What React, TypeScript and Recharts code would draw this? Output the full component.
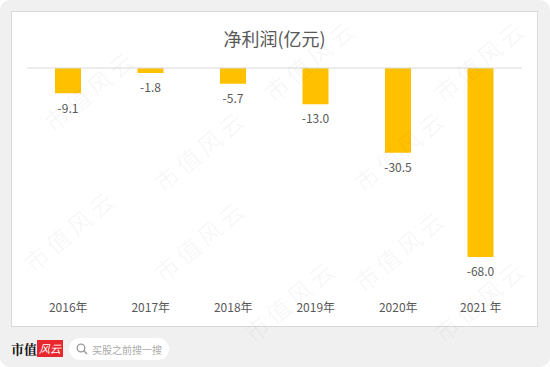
import React from "react";
import { BarChart, Bar, XAxis, YAxis, ReferenceLine, LabelList } from "recharts";

const years = ["2016年", "2017年", "2018年", "2019年", "2020年", "2021 年"];
const profit = [-9.1, -1.8, -5.7, -13.0, -30.5, -68.0];

const data = years.map((year, i) => ({ year, profit: profit[i] }));

const font = "'Noto Sans CJK SC', 'Noto Sans', sans-serif";

// watermark centres
const marks = [
  { x: 90, y: 90 },
  { x: 310, y: 60 },
  { x: 480, y: 60 },
  { x: 200, y: 150 },
  { x: 400, y: 150 },
  { x: 70, y: 230 },
  { x: 200, y: 240 },
  { x: 400, y: 250 },
  { x: 290, y: 300 },
  { x: 480, y: 300 },
];

const renderValue = (props: any) => {
  const { x, y, width, height, value } = props;
  const bottom = Math.max(y, y + height);
  return (
    <text
      x={x + width / 2}
      y={bottom + 16}
      textAnchor="middle"
      dominantBaseline="middle"
      fill="#595959"
      fontSize={12}
      fontFamily={font}
    >
      {value.toFixed(1)}
    </text>
  );
};

const renderTick = (props: any) => {
  const { x, y, payload } = props;
  return (
    <text x={x} y={y + 44} textAnchor="middle" dominantBaseline="middle" fill="#595959" fontSize={12} fontFamily={font}>
      {payload.value}
    </text>
  );
};

export default function App() {
  return (
    <div
      style={{
        position: "fixed",
        left: 0,
        top: 0,
        width: 550,
        height: 367,
        background: "#ffffff",
        fontFamily: font,
      }}
    >
      <div
        style={{
          position: "absolute",
          left: 0,
          top: 0,
          width: 550,
          height: 367,
          background: "#f0f0f0",
          borderRadius: 10,
          overflow: "hidden",
        }}
      >
        <div
          style={{
            position: "absolute",
            left: 11,
            top: 11,
            width: 525,
            height: 314,
            background: "#fff",
            border: "1px solid #d9d9d9",
          }}
        />
        <div
          style={{
            position: "absolute",
            left: 11,
            top: 26,
            width: 527,
            textAlign: "center",
            fontSize: 18,
            color: "#595959",
            lineHeight: "24px",
          }}
        >
          净利润(亿元)
        </div>
        <div style={{ position: "absolute", left: 11, top: 11 }}>
          <BarChart width={527} height={316} data={data} margin={{ top: 57, right: 16, bottom: 40, left: 16 }}>
            <XAxis dataKey="year" axisLine={false} tickLine={false} tick={renderTick} height={30} interval={0} />
            <YAxis hide domain={[-68, 0]} />
            <ReferenceLine y={0} stroke="#d9d9d9" strokeWidth={1} />
            <Bar dataKey="profit" fill="#FFC000" barSize={26} isAnimationActive={false}>
              <LabelList dataKey="profit" content={renderValue} />
            </Bar>
          </BarChart>
        </div>
        {marks.map((m, i) => (
          <div
            key={i}
            style={{
              position: "absolute",
              left: m.x - 60,
              top: m.y - 16,
              width: 120,
              height: 32,
              textAlign: "center",
              fontSize: 24,
              lineHeight: "32px",
              color: "rgba(0,0,0,0.045)",
              transform: "rotate(-40deg)",
              whiteSpace: "nowrap",
              pointerEvents: "none",
              letterSpacing: 4,
            }}
          >
            市值风云
          </div>
        ))}
        <div
          style={{
            position: "absolute",
            left: 11,
            top: 340,
            fontSize: 13,
            fontWeight: 700,
            fontFamily: "'Noto Serif CJK SC', 'Noto Sans CJK SC', serif",
            color: "#111",
            lineHeight: "18px",
          }}
        >
          市值
        </div>
        <div
          style={{
            position: "absolute",
            left: 37,
            top: 340,
            width: 26,
            height: 17,
            background: "#e8262d",
            color: "#fff",
            fontSize: 11,
            fontStyle: "italic",
            lineHeight: "17px",
            textAlign: "center",
          }}
        >
          风云
        </div>
        <div
          style={{
            position: "absolute",
            left: 69,
            top: 338,
            width: 100,
            height: 22,
            background: "#fff",
            borderRadius: 11,
            display: "flex",
            alignItems: "center",
          }}
        >
          <svg width={12} height={12} style={{ marginLeft: 7 }}>
            <circle cx={5} cy={5} r={3.8} stroke="#999" strokeWidth={1.3} fill="none" />
            <line x1={7.8} y1={7.8} x2={11} y2={11} stroke="#999" strokeWidth={1.3} />
          </svg>
          <span style={{ marginLeft: 4, fontSize: 10, color: "#aaa" }}>买股之前搜一搜</span>
        </div>
      </div>
    </div>
  );
}
